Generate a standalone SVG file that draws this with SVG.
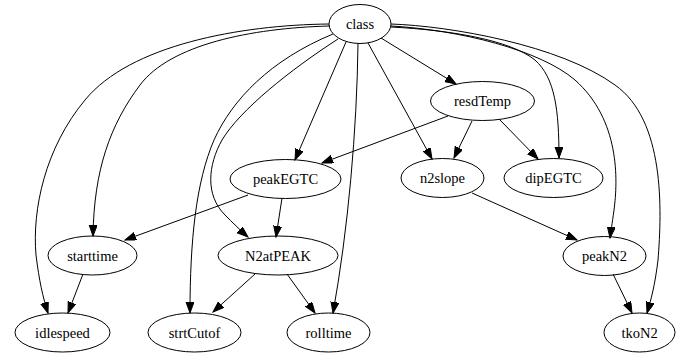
<svg xmlns="http://www.w3.org/2000/svg" width="684" height="355" viewBox="0 0 684 355">
  <style>
    .node ellipse { fill: none; stroke: #000; stroke-width: 1; }
    .node text { font-family: 'Liberation Serif', serif; font-size: 14.5px; fill: #000; text-anchor: middle; }
    .edges path { fill: none; stroke: #000; stroke-width: 1; marker-end: url(#arrow); }
  </style>
  <defs>
    <marker id="arrow" markerUnits="userSpaceOnUse" markerWidth="12" markerHeight="9" refX="11" refY="4" orient="auto">
      <path d="M0,0 L11,4 L0,8 Z" fill="#000" stroke="#000" stroke-width="1"/>
    </marker>
  </defs>
  <rect width="684" height="355" fill="#fff"/>

  <g id="edges" class="edges">
    <!-- class fan-out -->
    <path d="M381,38 L456,84"/>
    <path d="M346,42 L295,160"/>
    <path d="M368,43 L432,159"/>
    <path d="M391,27 C450,30 510,40 535,60 C555,78 559,110 559,158"/>
    <path d="M330,26 C250,28 170,45 140,85 C110,125 94,170 93,236"/>
    <path d="M329,24 C240,25 130,45 85,100 C45,148 32,210 36,255 C39,280 43,298 48,313"/>
    <path d="M338,39 C290,70 240,110 222,140 C208,165 205,195 225,215 C232,222 240,230 248,237"/>
    <path d="M333,34 C270,60 232,100 214,140 C196,182 190,240 190,313"/>
    <path d="M358,43 C357,130 348,230 333,313"/>
    <path d="M391,26 C460,30 540,50 575,80 C620,120 618,180 614,210 C612,225 611,230 610,238"/>
    <path d="M391,24 C450,26 560,45 615,85 C665,120 662,210 658,260 C655,285 651,300 647,313"/>
    <!-- resdTemp -->
    <path d="M448,116 L322,163"/>
    <path d="M472,121 L454,158"/>
    <path d="M499,119 L538,159"/>
    <!-- peakEGTC -->
    <path d="M248,195 L125,240"/>
    <path d="M282,198 L276,237"/>
    <!-- second row -->
    <path d="M83,274 L68,313"/>
    <path d="M255,274 L213,312"/>
    <path d="M287,274 L315,313"/>
    <path d="M472,193 L577,240"/>
    <path d="M613,274 L632,313"/>
  </g>

  <g id="class" class="node"><ellipse cx="360" cy="24" rx="31" ry="19.5"/><text x="360" y="29">class</text></g>
  <g id="resdTemp" class="node"><ellipse cx="482.5" cy="101" rx="52" ry="19.5"/><text x="482.5" y="106">resdTemp</text></g>
  <g id="peakEGTC" class="node"><ellipse cx="285.5" cy="179" rx="55.5" ry="19.5"/><text x="285.5" y="184">peakEGTC</text></g>
  <g id="n2slope" class="node"><ellipse cx="442.5" cy="178" rx="41.5" ry="19.5"/><text x="442.5" y="183">n2slope</text></g>
  <g id="dipEGTC" class="node"><ellipse cx="553.5" cy="178" rx="49.5" ry="19.5"/><text x="553.5" y="183">dipEGTC</text></g>
  <g id="starttime" class="node"><ellipse cx="92.5" cy="255.5" rx="44.5" ry="19.5"/><text x="92.5" y="260.5">starttime</text></g>
  <g id="N2atPEAK" class="node"><ellipse cx="278" cy="255.5" rx="60" ry="19.5"/><text x="278" y="260.5">N2atPEAK</text></g>
  <g id="peakN2" class="node"><ellipse cx="604.5" cy="256" rx="41.5" ry="19.5"/><text x="604.5" y="261">peakN2</text></g>
  <g id="idlespeed" class="node"><ellipse cx="62.5" cy="332.5" rx="47.5" ry="19.5"/><text x="62.5" y="337.5">idlespeed</text></g>
  <g id="strtCutof" class="node"><ellipse cx="194.5" cy="332.5" rx="46.5" ry="19.5"/><text x="194.5" y="337.5">strtCutof</text></g>
  <g id="rolltime" class="node"><ellipse cx="328.5" cy="332.5" rx="41.5" ry="19.5"/><text x="328.5" y="337.5">rolltime</text></g>
  <g id="tkoN2" class="node"><ellipse cx="639.5" cy="332.5" rx="35.5" ry="19.5"/><text x="639.5" y="337.5">tkoN2</text></g>
</svg>
